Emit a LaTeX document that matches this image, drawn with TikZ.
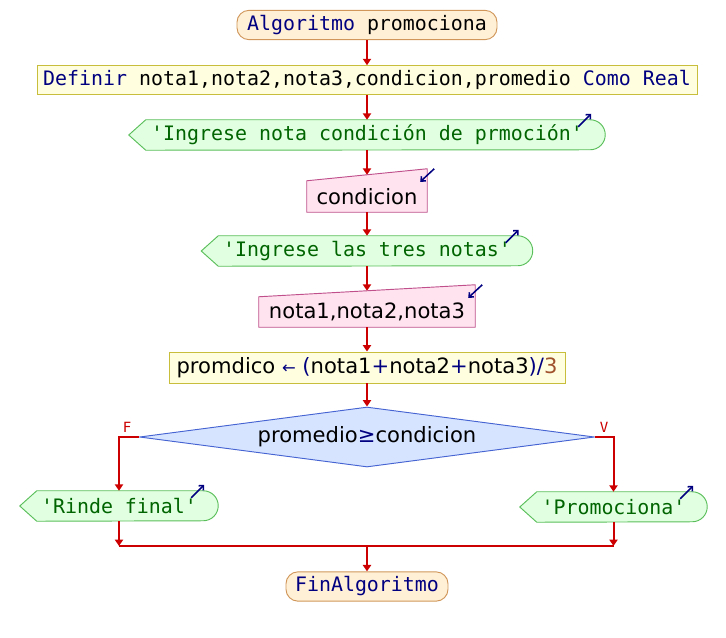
\documentclass[tikz,border=0pt]{standalone}
\usepackage{fontspec}
\setsansfont{DejaVu Sans}
\setmonofont{DejaVu Sans Mono}
\usetikzlibrary{shapes.geometric,arrows.meta,backgrounds}

\definecolor{rojo}{RGB}{204,0,0}
\definecolor{azulosc}{RGB}{0,0,128}
\definecolor{verdeosc}{RGB}{0,100,0}
\definecolor{cafe}{RGB}{160,82,45}
\definecolor{inicioFill}{RGB}{255,240,214}
\definecolor{inicioBorde}{RGB}{208,150,90}
\definecolor{defFill}{RGB}{255,255,224}
\definecolor{defBorde}{RGB}{200,190,60}
\definecolor{salFill}{RGB}{225,255,225}
\definecolor{salBorde}{RGB}{90,190,90}
\definecolor{leerFill}{RGB}{255,228,240}
\definecolor{leerBorde}{RGB}{192,80,140}
\definecolor{condFill}{RGB}{214,228,255}
\definecolor{condBorde}{RGB}{70,100,210}

\begin{document}
\begin{tikzpicture}
        [x=0.03cm, y=0.03cm,
        inicio/.style={rectangle, rounded corners=0.36cm, draw=inicioBorde, fill=inicioFill, line width=0.8pt, inner sep=0pt, minimum height=0.88cm, font=\fontsize{17}{20}\ttfamily, text=azulosc},
        definir/.style={rectangle, draw=defBorde, fill=defFill, line width=0.8pt, inner sep=0pt, minimum height=0.86cm, font=\fontsize{17}{20}\ttfamily},
        salida/.style={inner sep=0pt, minimum height=0.9cm, font=\fontsize{17}{20}\ttfamily, text=verdeosc},
        salidaforma/.style={draw=salBorde, fill=salFill, line width=0.8pt},
        leer/.style={inner sep=0pt, font=\fontsize{18}{21}\sffamily},
        leerforma/.style={draw=leerBorde, fill=leerFill, line width=0.8pt},
        asignar/.style={rectangle, draw=defBorde, fill=defFill, line width=0.8pt, inner sep=0pt, minimum height=0.93cm, font=\fontsize{18}{21}\sffamily},
        decision/.style={diamond, aspect=7.6, draw=condBorde, fill=condFill, line width=0.8pt, inner sep=0pt, minimum width=13.65cm, minimum height=1.8cm, font=\fontsize{18}{21}\sffamily},
        etiqueta/.style={font=\fontsize{12}{12}\ttfamily, text=rojo, inner sep=0pt},
        flecha/.style={draw=rojo, line width=1.7pt, -{Triangle[length=5.5pt,width=7pt]}},
        linea/.style={draw=rojo, line width=1.7pt},
        icono/.style={draw=azulosc, line width=1.3pt, -{Straight Barb[length=3pt,width=5.5pt]}}]
        \useasboundingbox (0,0) rectangle (726,-637);

        \node[inicio, minimum width=7.8cm] (inicio) at (367,-25) {Algoritmo \textcolor{black}{promociona}};
        \node[definir, minimum width=19.8cm] (definir) at (367,-80) {\textcolor{azulosc}{Definir} nota1,nota2,nota3,condicion,promedio \textcolor{azulosc}{Como Real}};
        \node[salida, minimum width=14.28cm] (sal1) at (367,-135) {'Ingrese nota condición de prmoción'};
        \node[leer, minimum width=3.6cm, minimum height=0.93cm] (leer1) at (367,-196.5) {condicion};
        \node[salida, minimum width=9.93cm] (sal2) at (367,-251) {'Ingrese las tres notas'};
        \node[leer, minimum width=6.48cm, minimum height=0.9cm] (leer2) at (367,-312) {nota1,nota2,nota3};
        \node[asignar, minimum width=11.88cm] (asig) at (367,-367.5) {promdico \textcolor{azulosc}{\fontsize{14}{21}\selectfont←} \textcolor{azulosc}{(}nota1\textcolor{azulosc}{+}nota2\textcolor{azulosc}{+}nota3\textcolor{azulosc}{)/}\textcolor{cafe}{3}};
        \node[decision] (cond) at (367,-437) {promedio\textcolor{azulosc}{≥}condicion};
        \node[etiqueta] (lblF) at (127,-427) {F};
        \node[etiqueta] (lblV) at (604,-427) {V};
        \node[salida, minimum width=5.94cm] (rinde) at (119,-506) {'Rinde final'};
        \node[salida, minimum width=5.61cm] (promo) at (613.5,-507) {'Promociona'};
        \node[inicio, minimum width=4.86cm] (fin) at (367,-586.5) {FinAlgoritmo};

        \coordinate (junta) at (367,-546);
        \coordinate (juntaI) at (rinde.south |- junta);
        \coordinate (juntaD) at (promo.south |- junta);

        % formas de salida y lectura
        \begin{scope}[on background layer]
        \foreach \n in {sal1,sal2,rinde,promo}
            \draw[salidaforma] (\n.west) -- ([shift={(17,0)}]\n.north west) -- ([shift={(-15,0)}]\n.north east) arc[start angle=90, end angle=-90, radius=15] -- ([shift={(17,0)}]\n.south west) -- cycle;
        \foreach \n in {leer1,leer2}
            \draw[leerforma] (\n.south west) -- (\n.north west) -- ([shift={(0,12)}]\n.north east) -- (\n.south east) -- cycle;
        \end{scope}
        \foreach \n in {sal1,sal2,rinde,promo}
            \draw[icono] ([shift={(-27,-7)}]\n.north east) -- ([shift={(-14,6)}]\n.north east);
        \foreach \n in {leer1,leer2}
            \draw[icono] ([shift={(7,12)}]\n.north east) -- ([shift={(-7,-1)}]\n.north east);

        \draw[flecha] (inicio) -- (definir);
        \draw[flecha] (definir) -- (sal1);
        \draw[flecha] (sal1) -- ([shift={(0,6)}]leer1.north);
        \draw[flecha] (leer1) -- (sal2);
        \draw[flecha] (sal2) -- ([shift={(0,6)}]leer2.north);
        \draw[flecha] (leer2) -- (asig);
        \draw[flecha] (asig) -- (cond);
        \draw[flecha] (cond.west) -| (rinde.north);
        \draw[flecha] (cond.east) -| (promo.north);
        \draw[flecha] (rinde) -- (juntaI);
        \draw[flecha] (promo) -- (juntaD);
        \draw[linea] (juntaI) -- (juntaD);
        \draw[flecha] (junta) -- (fin);

    \end{tikzpicture}
\end{document}
